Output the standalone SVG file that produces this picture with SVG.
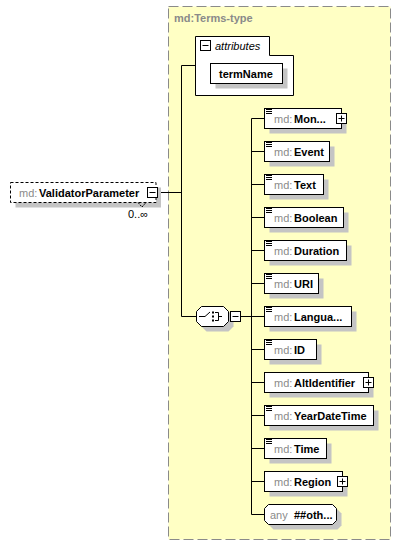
<svg xmlns="http://www.w3.org/2000/svg" width="402" height="546" viewBox="0 0 402 546">
<style>
text{font-family:"Liberation Sans",Arial,sans-serif;font-size:11px;fill:#000}
.pre{fill:#8a8a8a}
.b{font-weight:bold}
.box{fill:#fff;stroke:#000;stroke-width:1}
.sh{fill:#c4c4c4;stroke:none}
.ln{stroke:#000;stroke-width:1;fill:none}
.ic{fill:#fff;stroke:#000;stroke-width:1}
</style>
<defs>
<g id="doc"><path d="M0,0H6M0,2H6M0,4H6" stroke="#000" stroke-width="1"/></g>
</defs>
<rect x="0" y="0" width="402" height="546" fill="#fff"/>
<g id="terms-type">
<rect x="168.5" y="6.5" width="222" height="533" fill="#ffffc4" stroke="#8a8a8a" stroke-dasharray="10,4"/>
<text x="174" y="22" class="b" style="fill:#8a8a8a">md:Terms-type</text>
</g>
<g id="connectors">
<path class="ln" d="M157.5,192.5H181.5M181.5,65.5V316.5M181.5,65.5H195.5M181.5,316.5H196.5M240.5,316.5H251.5M251.5,118.5V514.5"/>
<path class="ln" d="M251.5,118.5H264.5M251.5,151.5H264.5M251.5,184.5H264.5M251.5,217.5H264.5M251.5,250.5H264.5M251.5,283.5H264.5M251.5,316.5H264.5M251.5,349.5H264.5M251.5,382.5H264.5M251.5,415.5H264.5M251.5,448.5H264.5M251.5,481.5H264.5M251.5,514.5H264.5"/>
</g>
<g id="ValidatorParameter">
<rect class="sh" x="15.5" y="187.5" width="145.5" height="20"/>
<rect x="10.5" y="182.5" width="145.5" height="20" fill="#fff" stroke="#000" stroke-dasharray="3,2"/>
<polyline points="138,202.5 142,207 146,202.5" fill="none" stroke="#000" stroke-dasharray="2,1"/>
<text x="19" y="196.5"><tspan class="pre">md:</tspan><tspan x="39" class="b">ValidatorParameter</tspan></text>
<rect class="ic" x="147.5" y="187.5" width="10" height="10"/>
<path class="ln" d="M149.5,192.5H155.5"/>
<text x="128" y="218">0..∞</text>
</g>
<g id="attributes">
<path class="box" d="M195.5,36.5H269.5V55.5H293.5V95.5H195.5Z"/>
<rect class="ic" x="200.5" y="40.5" width="10" height="10"/>
<path class="ln" d="M202.5,45.5H208.5"/>
<text x="215" y="49.5" font-style="italic">attributes</text>
</g>
<g id="termName">
<rect class="sh" x="215.5" y="68.5" width="72" height="20"/>
<rect class="box" x="210.5" y="63.5" width="72" height="20"/>
<text x="219" y="78" class="b">termName</text>
</g>
<g id="choice">
<path class="sh" d="M206.5,311.5H228.5L233.5,316.5V326.5L228.5,331.5H206.5L201.5,326.5V316.5Z"/>
<path class="box" d="M201.5,306.5H223.5L228.5,311.5V321.5L223.5,326.5H201.5L196.5,321.5V311.5Z"/>
<path class="ln" d="M199,316.5H205L210,312M215,312.5H218.5V320.5H215M218.5,316.5H222"/>
<rect x="212" y="311.5" width="2" height="2" fill="#000"/>
<rect x="212" y="315.5" width="2" height="2" fill="#000"/>
<rect x="212" y="319.5" width="2" height="2" fill="#000"/>
<rect class="ic" x="230.5" y="311.5" width="10" height="10"/>
<path class="ln" d="M232.5,316.5H238.5"/>
</g>
<g id="Mon">
<rect class="sh" x="269.5" y="113.5" width="77" height="20"/>
<rect class="box" x="264.5" y="108.5" width="77" height="20"/>
<use href="#doc" x="266" y="109.5"/>
<text x="274" y="122.5"><tspan class="pre">md:</tspan><tspan x="294" class="b">Mon...</tspan></text>
<rect class="ic" x="336.5" y="113.5" width="10" height="10"/>
<path class="ln" d="M338.5,118.5H344.5M341.5,115.5V121.5"/>
</g>
<g id="Event">
<rect class="sh" x="269.5" y="146.5" width="65" height="20"/>
<rect class="box" x="264.5" y="141.5" width="65" height="20"/>
<use href="#doc" x="266" y="142.5"/>
<text x="274" y="155.5"><tspan class="pre">md:</tspan><tspan x="294" class="b">Event</tspan></text>
</g>
<g id="Text">
<rect class="sh" x="269.5" y="179.5" width="59" height="20"/>
<rect class="box" x="264.5" y="174.5" width="59" height="20"/>
<use href="#doc" x="266" y="175.5"/>
<text x="274" y="188.5"><tspan class="pre">md:</tspan><tspan x="294" class="b">Text</tspan></text>
</g>
<g id="Boolean">
<rect class="sh" x="269.5" y="212.5" width="79" height="20"/>
<rect class="box" x="264.5" y="207.5" width="79" height="20"/>
<use href="#doc" x="266" y="208.5"/>
<text x="274" y="221.5"><tspan class="pre">md:</tspan><tspan x="294" class="b">Boolean</tspan></text>
</g>
<g id="Duration">
<rect class="sh" x="269.5" y="245.5" width="82" height="20"/>
<rect class="box" x="264.5" y="240.5" width="82" height="20"/>
<use href="#doc" x="266" y="241.5"/>
<text x="274" y="254.5"><tspan class="pre">md:</tspan><tspan x="294" class="b">Duration</tspan></text>
</g>
<g id="URI">
<rect class="sh" x="269.5" y="278.5" width="54" height="20"/>
<rect class="box" x="264.5" y="273.5" width="54" height="20"/>
<use href="#doc" x="266" y="274.5"/>
<text x="274" y="287.5"><tspan class="pre">md:</tspan><tspan x="294" class="b">URI</tspan></text>
</g>
<g id="Langua">
<rect class="sh" x="269.5" y="311.5" width="87" height="20"/>
<rect class="box" x="264.5" y="306.5" width="87" height="20"/>
<use href="#doc" x="266" y="307.5"/>
<text x="274" y="320.5"><tspan class="pre">md:</tspan><tspan x="294" class="b">Langua...</tspan></text>
</g>
<g id="ID">
<rect class="sh" x="269.5" y="344.5" width="52" height="20"/>
<rect class="box" x="264.5" y="339.5" width="52" height="20"/>
<use href="#doc" x="266" y="340.5"/>
<text x="274" y="353.5"><tspan class="pre">md:</tspan><tspan x="294" class="b">ID</tspan></text>
</g>
<g id="AltIdentifier">
<rect class="sh" x="269.5" y="377.5" width="104" height="20"/>
<rect class="box" x="264.5" y="372.5" width="104" height="20"/>
<text x="274" y="386.5"><tspan class="pre">md:</tspan><tspan x="294" class="b">AltIdentifier</tspan></text>
<rect class="ic" x="363.5" y="377.5" width="10" height="10"/>
<path class="ln" d="M365.5,382.5H371.5M368.5,379.5V385.5"/>
</g>
<g id="YearDateTime">
<rect class="sh" x="269.5" y="410.5" width="109" height="20"/>
<rect class="box" x="264.5" y="405.5" width="109" height="20"/>
<use href="#doc" x="266" y="406.5"/>
<text x="274" y="419.5"><tspan class="pre">md:</tspan><tspan x="294" class="b">YearDateTime</tspan></text>
</g>
<g id="Time">
<rect class="sh" x="269.5" y="443.5" width="62" height="20"/>
<rect class="box" x="264.5" y="438.5" width="62" height="20"/>
<use href="#doc" x="266" y="439.5"/>
<text x="274" y="452.5"><tspan class="pre">md:</tspan><tspan x="294" class="b">Time</tspan></text>
</g>
<g id="Region">
<rect class="sh" x="269.5" y="476.5" width="78" height="20"/>
<rect class="box" x="264.5" y="471.5" width="78" height="20"/>
<text x="274" y="485.5"><tspan class="pre">md:</tspan><tspan x="294" class="b">Region</tspan></text>
<rect class="ic" x="337.5" y="476.5" width="10" height="10"/>
<path class="ln" d="M339.5,481.5H345.5M342.5,478.5V484.5"/>
</g>
<g id="any">
<path class="sh" d="M273.5,509.5H337.5L341.5,513.5V525.5L337.5,529.5H273.5L269.5,525.5V513.5Z"/>
<path class="box" d="M268.5,504.5H332.5L336.5,508.5V520.5L332.5,524.5H268.5L264.5,520.5V508.5Z"/>
<text x="270" y="518.5"><tspan class="pre">any</tspan><tspan x="294" class="b">##oth...</tspan></text>
</g>
</svg>
